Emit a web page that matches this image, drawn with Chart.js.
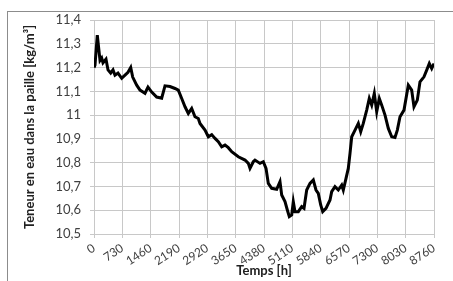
<!DOCTYPE html>
<html>
<head>
<meta charset="utf-8">
<script src="https://cdn.jsdelivr.net/npm/chart.js@4.4.0/dist/chart.umd.min.js"></script>
<style>
  body { margin:0; background:#fff; }
  #wrap { position:relative; width:453px; height:281px; }
  #cadre { position:absolute; left:7px; top:11px; right:-5px; bottom:-5px; border-left:1px solid #8c8c8c; border-top:1px solid #8c8c8c; }
  canvas { position:absolute; left:0; top:0; }
</style>
</head>
<body>
<div id="wrap">
  <div id="cadre"></div>
  <canvas id="graphe" width="453" height="281"></canvas>
</div>
<script>
// temps en heures et teneur en eau
var heures = [0, 26, 85, 155, 198, 232, 309, 361, 430, 490, 541, 618, 714, 799, 876, 946, 997, 1100, 1185, 1314,
  1391, 1487, 1615, 1744, 1829, 1958, 2087, 2172, 2260, 2345, 2430, 2517, 2602, 2687, 2731, 2860, 2945, 3033, 3118, 3203,
  3290, 3375, 3460, 3548, 3718, 3891, 3976, 4019, 4104, 4148, 4277, 4362, 4432, 4491, 4578, 4707, 4792, 4836, 4921, 4981,
  5032, 5094, 5135, 5179, 5264, 5351, 5411, 5480, 5565, 5650, 5720, 5779, 5841, 5893, 5977, 6081, 6124, 6209, 6294, 6382,
  6423, 6493, 6552, 6596, 6640, 6725, 6810, 6872, 6938, 7026, 7093, 7155, 7222, 7284, 7351, 7413, 7498, 7583, 7670, 7755,
  7815, 7884, 7987, 8098, 8185, 8244, 8330, 8399, 8502, 8572, 8639, 8701, 8760];
var teneur = [11.20, 11.21, 11.336, 11.23, 11.24, 11.22, 11.235, 11.19, 11.177, 11.19, 11.168, 11.177, 11.155, 11.168, 11.18, 11.20, 11.16, 11.126, 11.105, 11.092,
  11.118, 11.097, 11.076, 11.071, 11.123, 11.12, 11.112, 11.105, 11.07, 11.035, 11.007, 11.028, 10.993, 10.986, 10.965, 10.937, 10.909, 10.918, 10.902, 10.888,
  10.867, 10.874, 10.863, 10.846, 10.825, 10.811, 10.797, 10.776, 10.804, 10.811, 10.797, 10.804, 10.776, 10.713, 10.692, 10.688, 10.72, 10.664, 10.636, 10.601,
  10.573, 10.58, 10.636, 10.594, 10.594, 10.615, 10.608, 10.685, 10.713, 10.727, 10.685, 10.671, 10.622, 10.594, 10.608, 10.643, 10.678, 10.699, 10.685, 10.706,
  10.685, 10.734, 10.776, 10.839, 10.909, 10.937, 10.965, 10.93, 10.965, 11.021, 11.07, 11.042, 11.091, 11.014, 11.07, 11.042, 11.0, 10.944, 10.909, 10.906,
  10.937, 10.993, 11.021, 11.126, 11.105, 11.035, 11.063, 11.14, 11.161, 11.189, 11.217, 11.196, 11.217];

var points = heures.map((h, i) => ({x: h, y: teneur[i]}));
var gris = "#c8c8c8";
var texte = "#404040";

const config = {
    type: "line",
    data: {
        datasets: [{
            data: points,
            borderColor: "#000",
            borderWidth: 3,
            pointRadius: 0,
            tension: 0
        }]
    },
    options: {
        responsive: false,
        animation: false,
        layout: { padding: { top: 20, right: 19, left: 20, bottom: 0 } },
        plugins: { legend: { display: false }, tooltip: { enabled: false } },
        scales: {
            x: {
                type: "linear",
                min: 0,
                max: 8760,
                afterFit: s => { s.height = 47; },
                ticks: {
                    stepSize: 730,
                    autoSkip: false,
                    minRotation: 33,
                    maxRotation: 33,
                    color: texte,
                    padding: 3,
                    font: { family: "Lato", size: 12 },
                    callback: v => String(v)
                },
                grid: { color: gris, tickLength: 4 },
                border: { color: gris },
                title: {
                    display: true,
                    text: "Temps [h]",
                    color: "#202020",
                    padding: { top: 0, bottom: 2 },
                    font: { family: "Lato", size: 13, weight: "bold" }
                }
            },
            y: {
                min: 10.5,
                max: 11.4,
                afterFit: s => { s.width = 74; },
                ticks: {
                    stepSize: 0.1,
                    color: texte,
                    padding: 9,
                    font: { family: "Lato", size: 13 },
                    callback: v => String(Math.round(v * 10) / 10).replace(".", ",")
                },
                grid: { color: gris, tickLength: 4 },
                border: { color: gris },
                title: {
                    display: true,
                    text: "Teneur en eau dans la paille [kg/m³]",
                    color: "#202020",
                    padding: 2,
                    font: { family: "Lato", size: 13, weight: "bold" }
                }
            }
        }
    }
};

new Chart(document.getElementById("graphe").getContext("2d"), config);
</script>
</body>
</html>
